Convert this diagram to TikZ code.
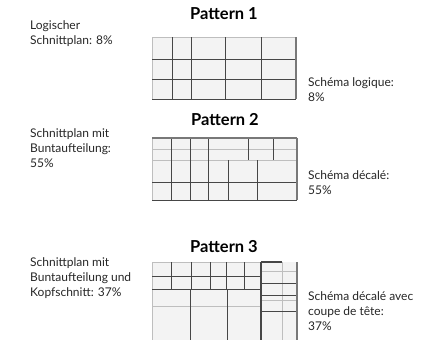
\documentclass[tikz,border=0pt]{standalone}
\usepackage{fontspec}
\setmainfont{Lato}
\usetikzlibrary{positioning}
\definecolor{cellfill}{RGB}{243,243,243}
\definecolor{cutdark}{RGB}{70,70,70}
\definecolor{cutlight}{RGB}{190,190,190}
\definecolor{edgegray}{RGB}{120,120,120}

\begin{document}
\begin{tikzpicture}[x=1pt, y=-1pt, font=\fontsize{12}{15}\selectfont,
  title/.style={font=\fontsize{16.5}{18}\selectfont\bfseries},
  desc/.style={align=left, anchor=north west, inner sep=0pt, text=black!85},
  cut/.style={cutdark, line width=0.85pt},
  lightcut/.style={cutlight, line width=0.8pt},
  border/.style={edgegray, line width=2.4pt}]
  \useasboundingbox (0,0) rectangle (445,340);

  % pattern 1
  \node[title] (t1) at (224,14) {Pattern 1};
  \fill[cellfill] (152,37) rectangle (296,99);
  \draw[lightcut] (152,99) -- (152,37) -- (296,37);
  \foreach \y in {59,79,99}
    \draw[cut] (152,\y) -- (296,\y);
  \foreach \x in {172,191,225,261}
    \draw[cut] (\x,37) -- (\x,99);
  \draw[border] (296,37) -- (296,99);
  \node[desc] (de1) at (30,20) {Logischer\\Schnittplan: 8\%};
  \node[desc] (fr1) at (308,77) {Schéma logique:\\8\%};

  % pattern 2
  \node[title] (t2) at (225,120) {Pattern 2};
  \fill[cellfill] (152,138) rectangle (297,200);
  \draw[lightcut] (152,200) -- (152,138);
  \foreach \y in {149,160}
    \draw[lightcut] (152,\y) -- (297,\y);
  \foreach \y in {182,200}
    \draw[cut] (152,\y) -- (297,\y);
  \foreach \x in {171,190,208}
    \draw[cut] (\x,138) -- (\x,200);
  \foreach \x in {248,273}
    \draw[cut] (\x,138) -- (\x,160);
  \foreach \x in {228,257}
    \draw[cut] (\x,160) -- (\x,200);
  \draw[border] (152,138) -- (297,138);
  \draw[border] (297,138) -- (297,200);
  \node[desc] (de2) at (30,128) {Schnittplan mit\\Buntaufteilung:\\55\%};
  \node[desc] (fr2) at (308,170) {Schéma décalé:\\55\%};

  % pattern 3
  \node[title] (t3) at (224,247) {Pattern 3};
  \fill[cellfill] (152,262) rectangle (297,340);
  \draw[lightcut] (152,340) -- (152,262) -- (261,262);
  \foreach \y in {276,289}
    \draw[cut] (152,\y) -- (261,\y);
  \draw[lightcut] (152,306) -- (261,306);
  \foreach \x in {171,191,210,226,244}
    \draw[cut] (\x,262) -- (\x,289);
  \foreach \x in {190,227}
    \draw[cut] (\x,289) -- (\x,340);
  \draw[lightcut] (282,262) -- (282,340);
  \foreach \y in {271,300}
    \draw[lightcut] (261,\y) -- (297,\y);
  \foreach \y in {283,295,311}
    \draw[cut] (261,\y) -- (297,\y);
  \draw[cutdark, line width=1.8pt] (261,262) -- (261,340);
  \draw[cutdark, line width=1.8pt] (261,262) -- (282,262);
  \draw[border] (297,262) -- (297,340);
  \node[desc] (de3) at (30,257) {Schnittplan mit\\Buntaufteilung und\\Kopfschnitt: 37\%};
  \node[desc] (fr3) at (308,291) {Schéma décalé avec\\coupe de tête:\\37\%};
\end{tikzpicture}
\end{document}
